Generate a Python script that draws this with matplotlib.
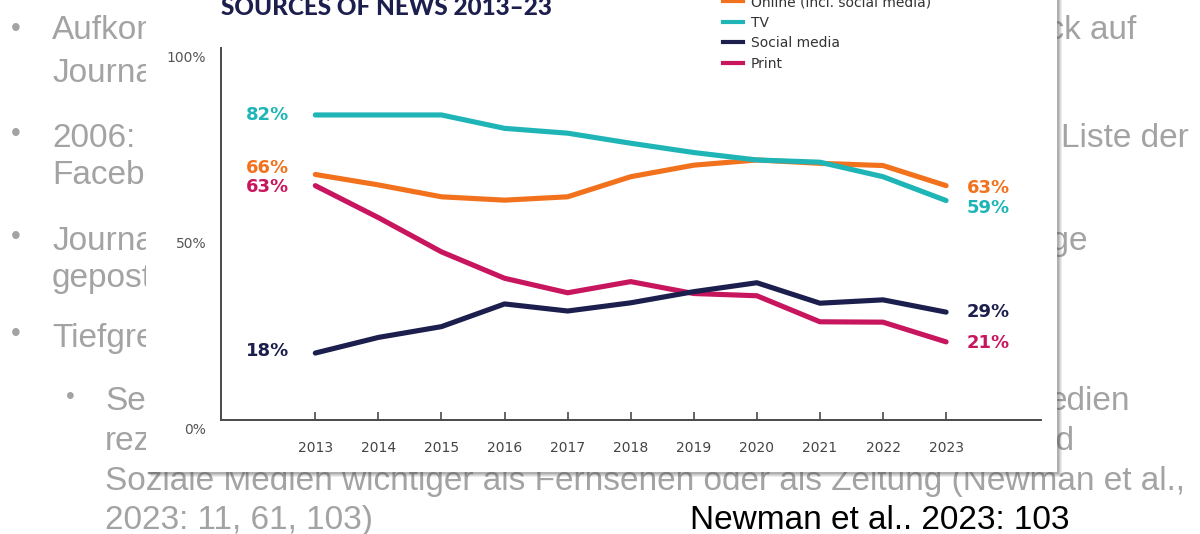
import matplotlib
matplotlib.use("Agg")
import matplotlib.pyplot as plt
from matplotlib.patches import Rectangle
from matplotlib.lines import Line2D
from matplotlib.transforms import ScaledTranslation

# ---------------- data ----------------
years = [2013, 2014, 2015, 2016, 2017, 2018, 2019, 2020, 2021, 2022, 2023]
online = [66, 63.2, 60.0, 59.1, 60.0, 65.4, 68.5, 69.9, 69.0, 68.4, 63]
tv = [82, 82, 82, 78.4, 77.1, 74.4, 71.9, 69.9, 69.3, 65.4, 59]
social = [18, 22.2, 25.1, 31.2, 29.3, 31.5, 34.5, 36.9, 31.4, 32.3, 29]
printed = [63, 54.4, 45.2, 38.1, 34.2, 37.2, 34.0, 33.4, 26.4, 26.3, 21]

series_names = ["Online (incl. social media)", "TV", "Social media", "Print"]
series_values = [online, tv, social, printed]
series_colors = ["#f2711c", "#1fb5b7", "#1c1f4d", "#c8165e"]

ytick_values = [0, 50, 100]
ytick_labels = ["0%", "50%", "100%"]
title_text = "SOURCES OF NEWS 2013\u201323"
source_text = "Newman et al.. 2023: 103"

# slide background text (visible fragments left and right of the chart panel)
left_texts = [
    (52, 39, "Aufkom"), (52, 82, "Journa"), (52, 147, "2006:"),
    (52, 184, "Facebo"), (52, 250, "Journa"), (52, 287, "gepost"),
    (52, 347, "Tiefgre"), (105, 410, "Sei"), (105, 450, "rez"),
    (105, 490, "Soziale Medien wichtiger als Fernsehen oder als Zeitung (Newman et al.,"),
    (105, 529, "2023: 11, 61, 103)"),
]
right_texts = [
    (1136, 39, "uck auf"), (1189, 147, "Liste der"), (1088, 250, "äge"),
    (1130, 410, "edien"), (1075, 450, "nd"),
]
bullets = [(16, 29, 20), (16, 134, 20), (16, 237, 20), (16, 334, 20), (70, 397, 18)]

# ---------------- figure ----------------
W, H = 1200, 534
fig = plt.figure(figsize=(W / 100, H / 100), dpi=100)
fig.patch.set_facecolor("white")

bg = fig.add_axes([0, 0, 1, 1])
bg.set_xlim(0, W)
bg.set_ylim(H, 0)
bg.axis("off")

slide_grey = "#a3a3a3"
for x, y, s in left_texts:
    bg.text(x, y, s, fontsize=24, family="Liberation Sans", color=slide_grey,
            ha="left", va="baseline", zorder=1)
for x, y, s in right_texts:
    bg.text(x, y, s, fontsize=24, family="Liberation Sans", color=slide_grey,
            ha="right", va="baseline", zorder=1)
for x, y, fs in bullets:
    bg.text(x, y, "\u2022", fontsize=fs, family="Liberation Sans", color=slide_grey,
            ha="center", va="center", zorder=1)

bg.text(690, 529, source_text, fontsize=24, family="Liberation Sans", color="black",
        ha="left", va="baseline", zorder=1)

# panel with shadow
px0, px1, py1 = 146, 1057, 472
for off, a in [(5, 0.10), (4, 0.12), (3, 0.15), (2, 0.2)]:
    bg.add_patch(Rectangle((px0 + off, -5), px1 - px0, py1 + 5 + off,
                           facecolor="#555555", edgecolor="none", alpha=a, zorder=2))
bg.add_patch(Rectangle((px0, -5), px1 - px0, py1 + 5, facecolor="white",
                       edgecolor="none", zorder=3))

# ---------------- chart ----------------
ax_left, ax_right, ax_bottom, ax_top = 220.7, 1040.7, 420, 48
ax = fig.add_axes([ax_left / W, 1 - ax_bottom / H, (ax_right - ax_left) / W,
                   (ax_bottom - ax_top) / H])
ax.set_facecolor("none")
ax.set_xlim(2011.5, 2024.5)
ax.set_ylim(0, 100)

draw_order = [3, 2, 0, 1]
for i in draw_order:
    ax.plot(years, series_values[i], color=series_colors[i], lw=3.7,
            solid_capstyle="round", solid_joinstyle="round", zorder=3 + draw_order.index(i))

for sp in ["top", "right"]:
    ax.spines[sp].set_visible(False)
for sp in ["left", "bottom"]:
    ax.spines[sp].set_color("#4a4a4a")
    ax.spines[sp].set_linewidth(1.4)

ax.set_xticks(years)
ax.set_xticklabels([str(y) for y in years], fontsize=10, color="#444444",
                   family="DejaVu Sans")
ax.tick_params(axis="x", direction="in", length=6, width=1.2, colors="#4a4a4a",
               pad=15, labelcolor="#444444")
ax.set_yticks(ytick_values)
ax.set_yticklabels(ytick_labels, fontsize=10, color="#555555")
ax.tick_params(axis="y", length=0, pad=10.5, labelcolor="#555555")
off = ScaledTranslation(0, -8 / 100, fig.dpi_scale_trans)
for lbl in ax.get_yticklabels():
    lbl.set_transform(lbl.get_transform() + off)

start_offsets = [(-26, 6), (-26, 0), (-26, 2), (-26, -1)]
end_offsets = [(21, -2), (21, -7), (21, 0), (21, -1)]
for vals, col, so, eo in zip(series_values, series_colors, start_offsets, end_offsets):
    ax.annotate(f"{vals[0]:.0f}%", (years[0], vals[0]), xytext=so,
                textcoords="offset pixels", ha="right", va="center",
                fontsize=13, fontweight="bold", color=col, family="DejaVu Sans")
    ax.annotate(f"{vals[-1]:.0f}%", (years[-1], vals[-1]), xytext=eo,
                textcoords="offset pixels", ha="left", va="center",
                fontsize=13, fontweight="bold", color=col, family="DejaVu Sans")

# legend
handles = [Line2D([0], [0], color=c, lw=3) for c in series_colors]
leg = fig.legend(handles, series_names, loc="upper left",
                 bbox_to_anchor=(723 / W, 1 + 5 / H), frameon=False,
                 fontsize=10, handlelength=1.45, handletextpad=0.55,
                 labelspacing=0.48, borderpad=0, borderaxespad=0)
for t in leg.get_texts():
    t.set_color("#333333")

# title
fig.text(221 / W, 1 - 15 / H, title_text, fontsize=17.5, fontweight="black",
         color="#1c1f4d", ha="left", va="baseline", family="Lato")

fig.savefig("out.png", dpi=100)
